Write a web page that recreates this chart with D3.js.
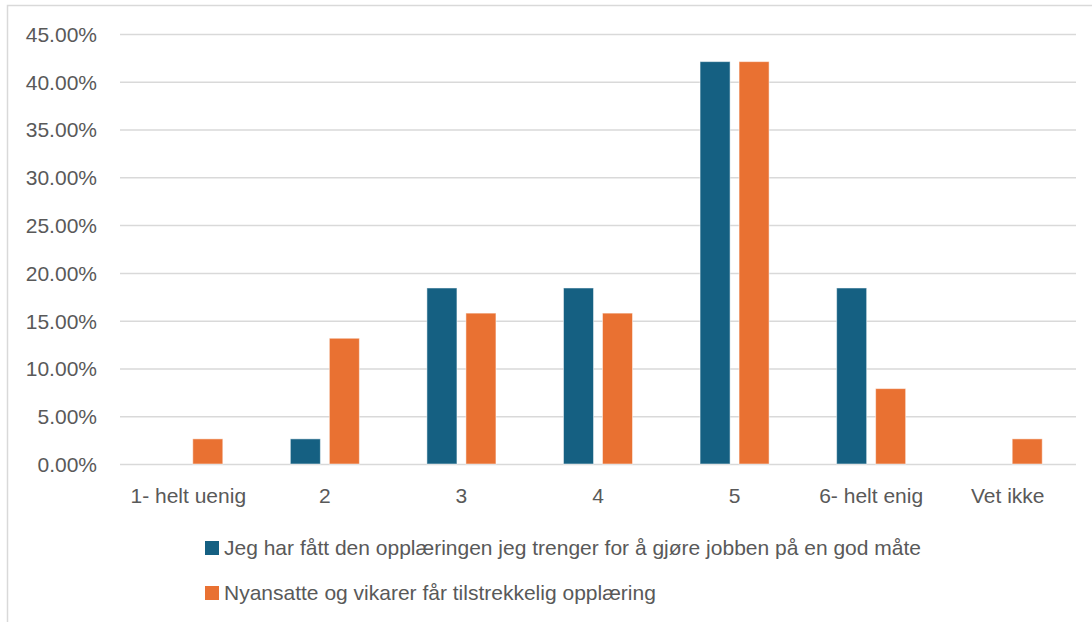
<!DOCTYPE html>
<html>
<head>
<meta charset="utf-8">
<script src="https://cdn.jsdelivr.net/npm/d3@7"></script>
<style>
  html, body { margin: 0; padding: 0; background: #fff; }
  svg { display: block; }
  text { font-family: "Liberation Sans", Arial, sans-serif; fill: #595959; }
</style>
</head>
<body>
<svg id="chart" width="1092" height="622"></svg>
<script>
// Survey answers, share of respondents per category
const categories = ["1- helt uenig", "2", "3", "4", "5", "6- helt enig", "Vet ikke"];
const seriesNames = [
  "Jeg har fått den opplæringen jeg trenger for å gjøre jobben på en god måte",
  "Nyansatte og vikarer får tilstrekkelig opplæring"
];
const trainingOwn = [0, 0.0263, 0.1842, 0.1842, 0.4211, 0.1842, 0];
const trainingNew = [0.0263, 0.1316, 0.1579, 0.1579, 0.4211, 0.0789, 0.0263];
const yTicks = [0, 0.05, 0.10, 0.15, 0.20, 0.25, 0.30, 0.35, 0.40, 0.45];
const colors = ["#156082", "#E97132"];

const svg = d3.select("#chart");
const W = 1092, H = 622;
const FONT = "21px";

// chart area frame
svg.append("rect")
  .attr("x", 7.5).attr("y", 5.5)
  .attr("width", W).attr("height", H)
  .attr("fill", "#fff").attr("stroke", "#d9d9d9").attr("stroke-width", 1.5);

const plot = { left: 120, right: 1076, top: 34, bottom: 464 };

const x = d3.scaleBand().domain(categories).range([plot.left, plot.right]).padding(0);
const y = d3.scaleLinear().domain([0, 0.45]).range([plot.bottom, plot.top]);

const inner = d3.scaleBand().domain([0, 1]).range([0, x.bandwidth()])
  .paddingInner(0.23).paddingOuter(0.866);

// gridlines + y labels
const yAxis = d3.axisLeft(y).tickValues(yTicks)
  .tickFormat(d => (d * 100).toFixed(2) + "%")
  .tickSize(-(plot.right - plot.left)).tickPadding(23);

const gy = svg.append("g").attr("transform", `translate(${plot.left},0)`).call(yAxis);
gy.select(".domain").remove();
gy.selectAll(".tick line").attr("stroke", "#d9d9d9").attr("stroke-width", 1.5);
gy.selectAll(".tick text").style("font-size", FONT).attr("fill", "#595959").attr("dy", "0.35em");

// x labels
const xAxis = d3.axisBottom(x).tickSize(0).tickPadding(24);
const gx = svg.append("g").attr("transform", `translate(0,${plot.bottom})`).call(xAxis);
gx.select(".domain").remove();
gx.selectAll(".tick text").style("font-size", FONT).attr("fill", "#595959");

// bars
const series = [trainingOwn, trainingNew];
series.forEach((vals, si) => {
  svg.append("g").selectAll("rect")
    .data(categories.map((c, i) => ({ c, v: vals[i] })))
    .join("rect")
    .attr("x", d => x(d.c) + inner(si))
    .attr("y", d => y(d.v))
    .attr("width", inner.bandwidth())
    .attr("height", d => y(0) - y(d.v))
    .attr("fill", colors[si])
    .attr("stroke", d => d.v > 0 ? "#ffffff" : "none")
    .attr("stroke-opacity", 0.5)
    .attr("stroke-width", 1);
});

// legend
const legend = svg.append("g");
seriesNames.forEach((name, i) => {
  const ly = 548 + i * 45;
  legend.append("rect")
    .attr("x", 205).attr("y", ly - 7)
    .attr("width", 14).attr("height", 14)
    .attr("fill", colors[i]);
  legend.append("text")
    .attr("x", 224).attr("y", ly).attr("dy", "0.35em")
    .style("font-size", FONT)
    .text(name);
});
</script>
</body>
</html>
